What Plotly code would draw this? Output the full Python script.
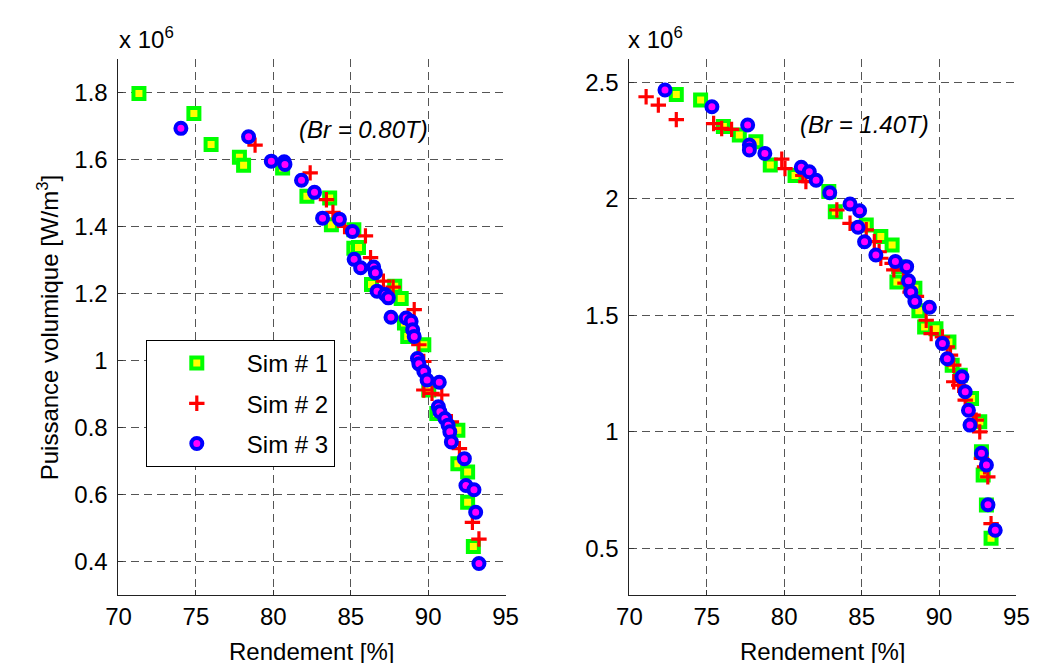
import plotly.graph_objects as go

# ---------------- data (x: Rendement [%], y: Puissance volumique [x1e6 W/m^3]) ----------------
# Left panel (Br = 0.80T)
l_sim1_x = [71.32, 74.87, 75.98, 77.81, 78.08, 80.6, 82.17, 83.64, 83.75, 85.2, 85.2, 85.5, 86.34, 87.84,
            88.26, 88.47, 88.68, 89.72, 90.04, 90.56, 91.92, 91.92, 92.55, 92.55, 92.92]
l_sim1_y = [1.797, 1.737, 1.645, 1.607, 1.583, 1.575, 1.49, 1.485, 1.405, 1.39, 1.335, 1.337, 1.227, 1.222,
            1.185, 1.112, 1.072, 1.047, 0.912, 0.842, 0.792, 0.692, 0.667, 0.577, 0.445]

l_sim2_x = [78.82, 82.38, 83.43, 83.85, 84.6, 85.95, 86.28, 87.11, 87.74, 89.1, 89.4, 89.72, 89.72, 90.25,
            90.88, 91.5, 92.02, 92.86, 93.28]
l_sim2_y = [1.643, 1.56, 1.48, 1.442, 1.40, 1.372, 1.307, 1.237, 1.219, 1.152, 1.047, 0.997, 0.912, 0.902,
            0.897, 0.817, 0.737, 0.517, 0.467]

l_sim3_x = [74.03, 78.4, 79.87, 80.7, 80.75, 81.82, 82.66, 83.18, 84.27, 85.11, 85.22, 85.64, 86.48, 86.59,
            86.7, 87.22, 87.43, 87.6, 88.58, 88.9, 89.0, 89.1, 89.31, 89.4, 89.72, 89.93, 90.72, 90.66,
            90.76, 91.08, 91.29, 91.4, 91.5, 92.34, 92.44, 92.96, 93.07, 93.28]
l_sim3_y = [1.693, 1.668, 1.595, 1.593, 1.585, 1.538, 1.502, 1.425, 1.422, 1.385, 1.302, 1.277, 1.279, 1.262,
            1.207, 1.197, 1.187, 1.129, 1.127, 1.117, 1.092, 1.072, 1.006, 0.99, 0.967, 0.942, 0.935, 0.862,
            0.847, 0.827, 0.807, 0.787, 0.757, 0.707, 0.627, 0.614, 0.547, 0.394]

# Right panel (Br = 1.40T)
r_sim1_x = [73.03, 74.6, 76.07, 77.1, 78.17, 79.1, 80.7, 82.88, 83.3, 85.3, 86.24, 86.97, 87.39, 87.28,
            88.44, 88.7, 89.07, 89.8, 90.64, 90.85, 91.37, 92.1, 92.63, 92.74, 92.85, 93.06, 93.36]
r_sim1_y = [2.448, 2.424, 2.31, 2.274, 2.245, 2.145, 2.10, 2.031, 1.945, 1.888, 1.838, 1.802, 1.709, 1.643,
            1.616, 1.52, 1.45, 1.443, 1.386, 1.286, 1.243, 1.143, 1.043, 0.915, 0.815, 0.686, 0.543]

r_sim2_x = [71.08, 71.87, 73.03, 75.44, 75.96, 76.6, 79.84, 80.05, 81.2, 81.4, 83.4, 84.25, 85.3, 85.82,
            86.13, 86.24, 86.97, 87.08, 87.7, 87.8, 88.13, 88.54, 89.17, 89.49, 90.22, 90.53, 90.74, 90.95,
            90.95, 91.27, 91.69, 92.2, 92.4, 92.63, 92.74, 92.94, 93.15, 93.36]
r_sim2_y = [2.438, 2.402, 2.34, 2.323, 2.302, 2.298, 2.17, 2.13, 2.10, 2.074, 1.952, 1.895, 1.867, 1.816,
            1.773, 1.745, 1.723, 1.695, 1.695, 1.638, 1.60, 1.581, 1.479, 1.422, 1.407, 1.365, 1.329, 1.286,
            1.215, 1.20, 1.136, 1.072, 1.05, 1.0, 0.886, 0.85, 0.807, 0.606]

r_sim3_x = [72.3, 75.33, 77.64, 77.75, 77.75, 78.75, 81.1, 81.62, 82.06, 82.94, 84.25, 84.87, 84.77, 85.19,
            85.92, 87.18, 87.91, 88.03, 88.18, 88.44, 89.38, 90.22, 90.53, 91.48, 91.69, 91.9, 92.0, 92.74,
            93.06, 93.16, 93.63]
r_sim3_y = [2.467, 2.395, 2.317, 2.231, 2.21, 2.195, 2.135, 2.116, 2.08, 2.026, 1.978, 1.949, 1.878, 1.816,
            1.759, 1.731, 1.709, 1.648, 1.60, 1.559, 1.535, 1.379, 1.314, 1.236, 1.172, 1.093, 1.029, 0.908,
            0.858, 0.687, 0.578]

series_names = ["Sim # 1", "Sim # 2", "Sim # 3"]
x_ticks = [70, 75, 80, 85, 90, 95]
l_y_ticks = [0.4, 0.6, 0.8, 1.0, 1.2, 1.4, 1.6, 1.8]
l_y_labels = ["0.4", "0.6", "0.8", "1", "1.2", "1.4", "1.6", "1.8"]
r_y_ticks = [0.5, 1.0, 1.5, 2.0, 2.5]
r_y_labels = ["0.5", "1", "1.5", "2", "2.5"]
panel_notes = ["(Br = 0.80T)", "(Br = 1.40T)"]

# ---------------- styles ----------------
W, H = 1039, 663
FONT = "Liberation Sans, Arial, Helvetica, sans-serif"
FS = 24
styles = [
    dict(symbol="square", size=11, color="#ffff00", line=dict(color="#00ff00", width=4)),
    dict(symbol="cross-thin", size=11, color="#ff0000", line=dict(color="#ff0000", width=3.2)),
    dict(symbol="circle", size=11, color="#ff00ff", line=dict(color="#0000ff", width=4)),
]

fig = go.Figure()
left = [(l_sim1_x, l_sim1_y), (l_sim2_x, l_sim2_y), (l_sim3_x, l_sim3_y)]
right = [(r_sim1_x, r_sim1_y), (r_sim2_x, r_sim2_y), (r_sim3_x, r_sim3_y)]
for i, (xs, ys) in enumerate(left):
    fig.add_trace(go.Scatter(x=xs, y=ys, mode="markers", name=series_names[i], legendgroup=str(i),
                             marker=styles[i], xaxis="x", yaxis="y", showlegend=True))
for i, (xs, ys) in enumerate(right):
    fig.add_trace(go.Scatter(x=xs, y=ys, mode="markers", name=series_names[i], legendgroup=str(i),
                             marker=styles[i], xaxis="x2", yaxis="y2", showlegend=False))

def px(x):
    return x / W

def py(y):
    return 1 - y / H

ydom = [py(587), py(51)]
common_x = dict(range=[70, 95], tickvals=x_ticks, ticks="inside", ticklen=5, tickcolor="#333",
                showline=True, linecolor="#222", linewidth=1, showgrid=True, gridcolor="#555",
                griddash="8px,5px", gridwidth=1, zeroline=False, tickfont=dict(size=FS, color="#000"))
common_y = dict(ticks="inside", ticklen=5, tickcolor="#333", showline=True, linecolor="#222", linewidth=1,
                showgrid=True, gridcolor="#555", griddash="8px,5px", gridwidth=1, zeroline=False,
                tickfont=dict(size=FS, color="#000"), ticklabelstandoff=5)

fig.update_layout(
    width=W, height=H, margin=dict(l=0, r=0, t=0, b=0),
    paper_bgcolor="white", plot_bgcolor="white",
    font=dict(family=FONT, size=FS, color="#000"),
    xaxis=dict(domain=[px(100), px(497)], anchor="y", **common_x),
    yaxis=dict(domain=ydom, anchor="x", range=[0.3, 1.9], tickvals=l_y_ticks, ticktext=l_y_labels, **common_y),
    xaxis2=dict(domain=[px(624), px(1021)], anchor="y2", **common_x),
    yaxis2=dict(domain=ydom, anchor="x2", range=[0.3, 2.6], tickvals=r_y_ticks, ticktext=r_y_labels, **common_y),
    legend=dict(x=px(128), y=py(332), xanchor="left", yanchor="top", bgcolor="white",
                bordercolor="#000", borderwidth=1, font=dict(size=FS), itemwidth=90,
                tracegroupgap=6),
    showlegend=True,
)

ann = []
for xc in [px(298), px(822)]:
    ann.append(dict(text="Rendement [%]", x=xc, y=py(643), xref="paper", yref="paper",
                    showarrow=False, font=dict(size=FS), xanchor="center", yanchor="middle"))
ann.append(dict(text="Puissance volumique [W/m<sup>3</sup>]", x=px(28), y=py(320), xref="paper", yref="paper",
                showarrow=False, textangle=-90, font=dict(size=FS), xanchor="center", yanchor="middle"))
for xl in [px(98), px(621)]:
    ann.append(dict(text="x 10<sup>6</sup>", x=xl, y=py(30), xref="paper", yref="paper", showarrow=False,
                    font=dict(size=FS), xanchor="left", yanchor="middle"))
ann.append(dict(text="<i>" + panel_notes[0] + "</i>", x=85.8, y=1.69, xref="x", yref="y", showarrow=False,
                font=dict(size=FS), xanchor="center", yanchor="middle"))
ann.append(dict(text="<i>" + panel_notes[1] + "</i>", x=85.2, y=2.317, xref="x2", yref="y2", showarrow=False,
                font=dict(size=FS), xanchor="center", yanchor="middle"))
fig.update_layout(annotations=ann)

fig.write_html("out.html")
